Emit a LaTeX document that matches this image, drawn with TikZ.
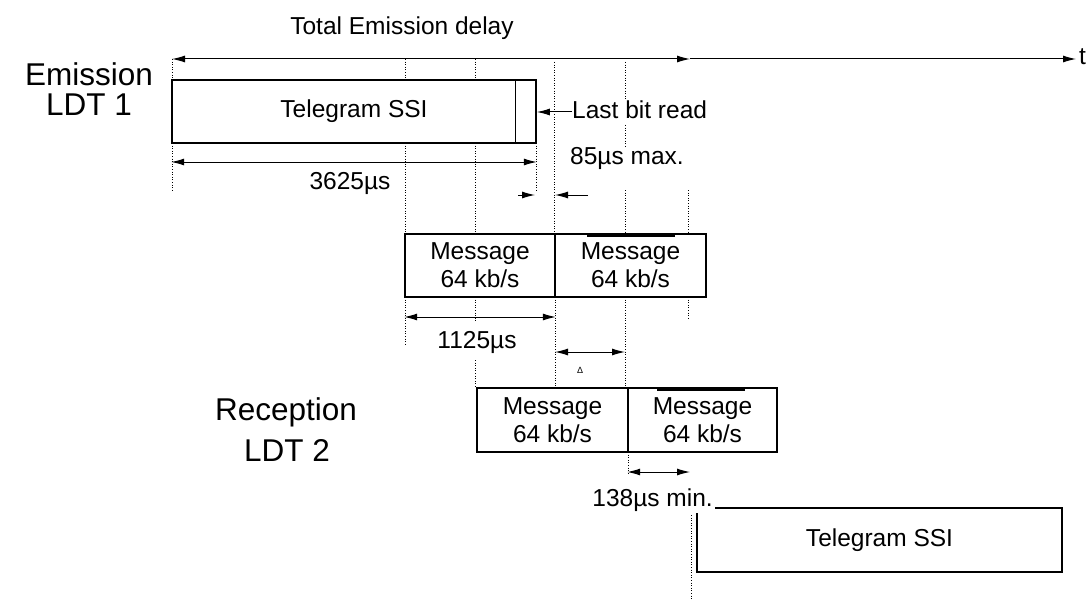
\documentclass[tikz,border=0pt]{standalone}
\usepackage{fontspec}
\setmainfont{Liberation Sans}
\usetikzlibrary{arrows.meta}
\begin{document}
\begin{tikzpicture}[x=1pt,y=-1pt,
  txt/.style={inner sep=0pt,font=\fontsize{24.5}{28}\selectfont},
  big/.style={inner sep=0pt,font=\fontsize{31.5}{36}\selectfont},
  frame/.style={draw,line width=1.6pt,inner sep=0pt,font=\fontsize{24.5}{28}\selectfont,align=center},
  guide/.style={line width=0.8pt,dash pattern=on 1pt off 1.6pt},
  dim/.style={line width=1pt,{Latex[length=13pt,width=7pt]}-{Latex[length=13pt,width=7pt]}},
  one/.style={line width=1pt,-{Latex[length=13pt,width=7pt]}}]
\useasboundingbox (0,0) rectangle (1086,599);
% boxes
\node[frame,minimum width=364pt,minimum height=63pt] (tel1) at (354,111.5) {Telegram SSI};
\node[frame,minimum width=150pt,minimum height=63pt] (m1) at (480,265.5) {Message\\64 kb/s};
\node[frame,minimum width=151pt,minimum height=63pt] (m2) at (630.5,265.5) {Message\\64 kb/s};
\node[frame,minimum width=151pt,minimum height=64pt] (r1) at (552.5,420) {Message\\64 kb/s};
\node[frame,minimum width=149pt,minimum height=64pt] (r2) at (702.5,420) {Message\\64 kb/s};
\node[frame,minimum width=365pt,minimum height=64pt] (tel2) at (879.5,540) {Telegram SSI};
\draw[line width=0.8pt] (515,80) -- (515,143);
\draw[line width=2pt] (587,235.5) -- (675,235.5);
\draw[line width=2pt] (657,389.5) -- (745,389.5);
% labels
\node[txt] (total) at (402,28) {Total Emission delay};
\node[big] (em) at (89,74) {Emission};
\node[big] (ldt1) at (89,105) {LDT 1};
\node[big] (rec) at (286,412) {Reception};
\node[big] (ldt2) at (287,450) {LDT 2};
\node[txt,anchor=west] (last) at (572,110) {Last bit read};
\node[txt] (l3625) at (350,183) {3625µs};
\node[txt,anchor=west] (l85) at (570,158) {85µs max.};
\node[txt] (l1125) at (477,342) {1125µs};
\node[inner sep=0pt,font=\fontsize{9}{9}\selectfont] (ldelta) at (580,370) {Δ};
\node[txt,anchor=west] (tt) at (1079,57) {t};
% guides
\draw[guide] (172,59) -- (172,80) (172,143) -- (172,190);
\draw[guide] (405,59) -- (405,80) (405,143) -- (405,234) (405,297) -- (405,345);
\draw[guide] (475,59) -- (475,80) (475,143) -- (475,234) (475,297) -- (475,322) (475,360) -- (475,388);
\draw[guide] (536,143) -- (536,190);
\draw[guide] (554,62) -- (554,234) (555,297) -- (555,388);
\draw[guide] (625,62) -- (625,100) (625,125) -- (625,146) (625,190) -- (625,234) (625,297) -- (625,388);
\draw[guide] (688,190) -- (688,234) (688,297) -- (688,320);
\draw[guide] (628,452) -- (628,475);
\draw[guide] (691,515) -- (691,599);
% dimension arrows
\coordinate (tl) at (172,59);
\coordinate (tm) at (690,59);
\coordinate (tr) at (1076,59);
\draw[dim] (tl) -- (tm);
\draw[one] (tm) -- (tr);
\coordinate (lastfrom) at (572,112);
\draw[one] (lastfrom) -- (tel1.east |- lastfrom);
\draw[dim] (tel1.south west |- 0,162) -- (tel1.south east |- 0,162);
\coordinate (a85l) at (518,195);
\coordinate (a85r) at (588,195);
\draw[one] (a85l) -- (535,195);
\draw[one] (a85r) -- (555,195);
\draw[dim] (m1.south west |- 0,317) -- (m1.south east |- 0,317);
\draw[dim] (555,352) -- (625,352);
\draw[dim] (r2.south west |- 0,472) -- (690,472);
\node[txt,anchor=east,fill=white,inner sep=2pt] (l138) at (715,500) {138µs min.};
\end{tikzpicture}
\end{document}
